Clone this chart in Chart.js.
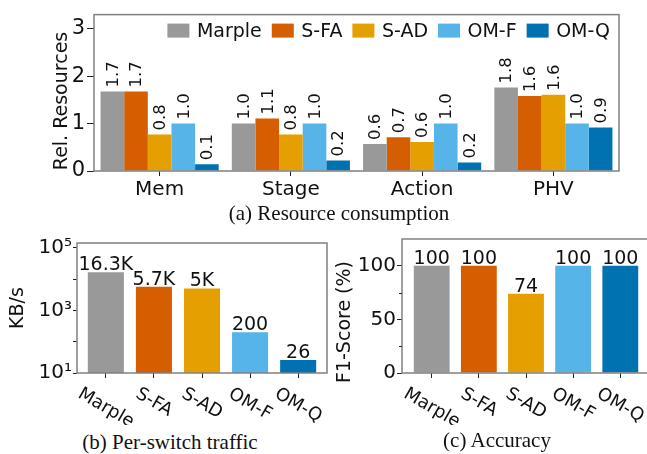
<!DOCTYPE html>
<html><head><meta charset="utf-8">
<script src="https://cdn.jsdelivr.net/npm/chart.js@4.4.0/dist/chart.umd.min.js"></script>
<style>
html,body{margin:0;padding:0;width:647px;height:454px;overflow:hidden;background:#fff}
body{position:relative}
.box{position:absolute}
.cap{position:absolute;font-family:"Liberation Serif","DejaVu Serif",serif;font-size:21px;color:#111;white-space:nowrap;transform:translate(-50%,-50%);line-height:1}
</style></head><body>
<div class="box" style="left:0;top:0"><canvas id="ca" width="647" height="205"></canvas></div>
<div class="box" style="left:0;top:225px"><canvas id="cb" width="340" height="200"></canvas></div>
<div class="box" style="left:330px;top:225px"><canvas id="cc" width="340" height="200"></canvas></div>
<div class="cap" style="left:339px;top:213px">(a) Resource consumption</div>
<div class="cap" style="left:170px;top:442px">(b) Per-switch traffic</div>
<div class="cap" style="left:497px;top:440px">(c) Accuracy</div>
<script>
// ---- data ----
const methods = ['Marple', 'S-FA', 'S-AD', 'OM-F', 'OM-Q'];
const colors = ['#999999', '#D55E00', '#E69F00', '#56B4E9', '#0072B2'];
const resources = ['Mem', 'Stage', 'Action', 'PHV'];
const marpleRes = [1.68, 1.00, 0.57, 1.76];
const sfaRes = [1.68, 1.11, 0.71, 1.58];
const sadRes = [0.77, 0.77, 0.61, 1.61];
const omfRes = [1.00, 1.00, 1.00, 1.00];
const omqRes = [0.14, 0.22, 0.18, 0.92];
const resTicks = [0, 1, 2, 3];
const traffic = [16300, 5700, 5000, 200, 26];
const trafficLabels = ['16.3K', '5.7K', '5K', '200', '26'];
const trafficTicks = [10, 100, 1000, 10000, 100000];
const trafficTickLabels = ['10\u00B9', '', '10\u00B3', '', '10\u2075'];
const f1 = [100, 100, 74, 100, 100];
const f1Labels = ['100', '100', '74', '100', '100'];
const f1Ticks = [0, 50, 100];
const f1Minor = [25, 75];

const FONT = 'DejaVu Sans';
const TXT = '#111';
Chart.defaults.font.family = FONT;
Chart.defaults.color = TXT;

const framePlugin = {
  id: 'frame',
  afterDatasetsDraw(chart) {
    const a = chart.chartArea, ctx = chart.ctx;
    ctx.save();
    ctx.strokeStyle = '#808080';
    ctx.lineWidth = 1.5;
    ctx.strokeRect(a.left, a.top, a.right - a.left, a.bottom - a.top);
    ctx.restore();
  }
};

const yTitlePlugin = {
  id: 'ytitle',
  afterDraw(chart, args, o) {
    const ctx = chart.ctx;
    ctx.save();
    ctx.translate(o.x, o.y);
    ctx.rotate(-Math.PI / 2);
    ctx.font = o.size + 'px "' + FONT + '"';
    ctx.fillStyle = TXT;
    ctx.textAlign = 'center';
    ctx.textBaseline = 'middle';
    ctx.fillText(o.text, 0, 0);
    ctx.restore();
  }
};

// legend drawn inside plot area, from dataset labels/colours
const innerLegend = {
  id: 'innerLegend',
  afterDraw(chart, args, o) {
    const ctx = chart.ctx, a = chart.chartArea;
    ctx.save();
    ctx.font = o.size + 'px "' + FONT + '"';
    const items = chart.data.datasets.map(d => ({t: d.label, c: d.backgroundColor, w: ctx.measureText(d.label).width}));
    let total = 0;
    items.forEach((it, i) => { total += o.box + o.gap + it.w + (i ? o.sep : 0); });
    let x = a.right - o.right - total;
    const cy = a.top + o.top;
    items.forEach(it => {
      ctx.fillStyle = it.c;
      ctx.fillRect(x, cy - o.boxH / 2, o.box, o.boxH);
      x += o.box + o.gap;
      ctx.fillStyle = TXT;
      ctx.textBaseline = 'middle';
      ctx.textAlign = 'left';
      ctx.fillText(it.t, x, cy + 1);
      x += it.w + o.sep;
    });
    ctx.restore();
  }
};

const rotValuePlugin = {
  id: 'rotValues',
  afterDatasetsDraw(chart, args, o) {
    const ctx = chart.ctx;
    ctx.save();
    ctx.font = o.size + 'px "' + FONT + '"';
    ctx.fillStyle = TXT;
    chart.data.datasets.forEach((ds, di) => {
      const meta = chart.getDatasetMeta(di);
      meta.data.forEach((el, i) => {
        ctx.save();
        ctx.translate(el.x, el.y - o.gap);
        ctx.rotate(-Math.PI / 2);
        ctx.textAlign = 'left';
        ctx.textBaseline = 'middle';
        ctx.fillText(ds.data[i].toFixed(1), 0, 1);
        ctx.restore();
      });
    });
    ctx.restore();
  }
};

const topValuePlugin = {
  id: 'topValues',
  afterDatasetsDraw(chart, args, o) {
    const ctx = chart.ctx;
    ctx.save();
    ctx.font = o.size + 'px "' + FONT + '"';
    ctx.fillStyle = TXT;
    ctx.textAlign = 'center';
    ctx.textBaseline = 'alphabetic';
    const meta = chart.getDatasetMeta(0);
    meta.data.forEach((el, i) => {
      ctx.fillText(o.labels[i], el.x, el.y - o.gap);
    });
    ctx.restore();
  }
};

const slantLabels = {
  id: 'slantLabels',
  afterDraw(chart, args, o) {
    const ctx = chart.ctx, xs = chart.scales.x;
    ctx.save();
    ctx.font = o.size + 'px "' + FONT + '"';
    ctx.fillStyle = TXT;
    ctx.textAlign = 'center';
    ctx.textBaseline = 'middle';
    const ang = Math.PI / 6;
    o.labels.forEach((t, i) => {
      const w = ctx.measureText(t).width;
      const h = o.size;
      const H = w * Math.sin(ang) + h * Math.cos(ang);
      const px = xs.getPixelForValue(i);
      const cy = chart.chartArea.bottom + o.pad + H / 2;
      ctx.save();
      ctx.translate(px, cy);
      ctx.rotate(ang);
      ctx.fillText(t, 0, 0);
      ctx.restore();
    });
    ctx.restore();
  }
};

const minorTicks = {
  id: 'minorTicks',
  afterDraw(chart, args, o) {
    const ctx = chart.ctx, ys = chart.scales.y, a = chart.chartArea;
    ctx.save();
    ctx.strokeStyle = '#222';
    ctx.lineWidth = 1;
    o.values.forEach(v => {
      const y = Math.round(ys.getPixelForValue(v)) + 0.5;
      ctx.beginPath();
      ctx.moveTo(a.left - o.len, y);
      ctx.lineTo(a.left, y);
      ctx.stroke();
    });
    ctx.restore();
  }
};

// ---- chart (a) ----
const resSeries = [marpleRes, sfaRes, sadRes, omfRes, omqRes];
new Chart(document.getElementById('ca'), {
  type: 'bar',
  data: {
    labels: resources,
    datasets: resSeries.map((d, i) => ({
      label: methods[i], data: d, backgroundColor: colors[i], borderWidth: 0,
      categoryPercentage: 0.9, barPercentage: 1
    }))
  },
  options: {
    responsive: false, animation: false,
    layout: {padding: {top: 8, right: 28, left: 0, bottom: 0}},
    plugins: {
      legend: {display: false}, tooltip: {enabled: false},
      ytitle: {text: 'Rel. Resources', x: 62, y: 101, size: 19},
      innerLegend: {size: 19, box: 22, boxH: 14, gap: 7.5, sep: 10, right: 9, top: 16},
      rotValues: {size: 16.5, gap: 4}
    },
    scales: {
      x: {
        grid: {display: true, drawOnChartArea: false, offset: false, tickLength: 5, tickColor: '#222'},
        border: {display: false},
        ticks: {font: {size: 20}, color: TXT, padding: 2},
        afterFit(s) { s.height = 34; }
      },
      y: {
        min: 0, max: 3.3,
        afterBuildTicks(s) { s.ticks = resTicks.map(v => ({value: v})); },
        grid: {display: true, drawOnChartArea: false, tickLength: 7, tickColor: '#222'},
        border: {display: false},
        ticks: {font: {size: 21}, color: TXT, padding: 2},
        afterFit(s) { s.width = 94; }
      }
    }
  },
  plugins: [framePlugin, yTitlePlugin, innerLegend, rotValuePlugin]
});

// ---- chart (b) ----
new Chart(document.getElementById('cb'), {
  type: 'bar',
  data: {
    datasets: [{
      label: 'traffic',
      data: traffic.map((v, i) => ({x: i, y: v})),
      backgroundColor: colors, borderWidth: 0,
      categoryPercentage: 1, barPercentage: 0.75
    }]
  },
  options: {
    responsive: false, animation: false,
    layout: {padding: {top: 18, right: 13, left: 0, bottom: 0}},
    plugins: {
      legend: {display: false}, tooltip: {enabled: false},
      ytitle: {text: 'KB/s', x: 18, y: 83, size: 19},
      topValues: {size: 19, gap: 2, labels: trafficLabels},
      slantLabels: {size: 18, pad: 12, labels: methods}
    },
    scales: {
      x: {
        type: 'linear', min: -0.6, max: 4.6, offset: false,
        afterBuildTicks(s) { s.ticks = methods.map((m, i) => ({value: i})); },
        grid: {display: true, drawOnChartArea: false, offset: false, tickLength: 5, tickColor: '#222'},
        border: {display: false},
        ticks: {display: false},
        afterFit(s) { s.height = 52; }
      },
      y: {
        type: 'logarithmic', min: 10, max: 141000,
        afterBuildTicks(s) { s.ticks = trafficTicks.map(v => ({value: v})); },
        grid: {display: true, drawOnChartArea: false, tickLength: 4, tickColor: '#222'},
        border: {display: false},
        ticks: {font: {size: 20}, color: TXT, padding: 1,
          callback: (v, i) => trafficTickLabels[i]},
        afterFit(s) { s.width = 77; }
      }
    }
  },
  plugins: [framePlugin, yTitlePlugin, topValuePlugin, slantLabels]
});

// ---- chart (c) ----
new Chart(document.getElementById('cc'), {
  type: 'bar',
  data: {
    datasets: [{
      label: 'f1',
      data: f1.map((v, i) => ({x: i, y: v})),
      backgroundColor: colors, borderWidth: 0,
      categoryPercentage: 1, barPercentage: 0.76
    }]
  },
  options: {
    responsive: false, animation: false,
    layout: {padding: {top: 14, right: 20, left: 0, bottom: 0}},
    plugins: {
      legend: {display: false}, tooltip: {enabled: false},
      ytitle: {text: 'F1-Score (%)', x: 15, y: 97, size: 19},
      topValues: {size: 19, gap: 2, labels: f1Labels},
      slantLabels: {size: 18, pad: 12, labels: methods},
      minorTicks: {values: f1Minor, len: 3}
    },
    scales: {
      x: {
        type: 'linear', min: -0.63, max: 4.63, offset: false,
        afterBuildTicks(s) { s.ticks = methods.map((m, i) => ({value: i})); },
        grid: {display: true, drawOnChartArea: false, offset: false, tickLength: 5, tickColor: '#222'},
        border: {display: false},
        ticks: {display: false},
        afterFit(s) { s.height = 52; }
      },
      y: {
        min: 0, max: 125,
        afterBuildTicks(s) { s.ticks = f1Ticks.map(v => ({value: v})); },
        grid: {display: true, drawOnChartArea: false, tickLength: 5, tickColor: '#222'},
        border: {display: false},
        ticks: {font: {size: 20}, color: TXT, padding: 1},
        afterFit(s) { s.width = 72; }
      }
    }
  },
  plugins: [framePlugin, yTitlePlugin, topValuePlugin, slantLabels, minorTicks]
});
</script>
</body></html>
